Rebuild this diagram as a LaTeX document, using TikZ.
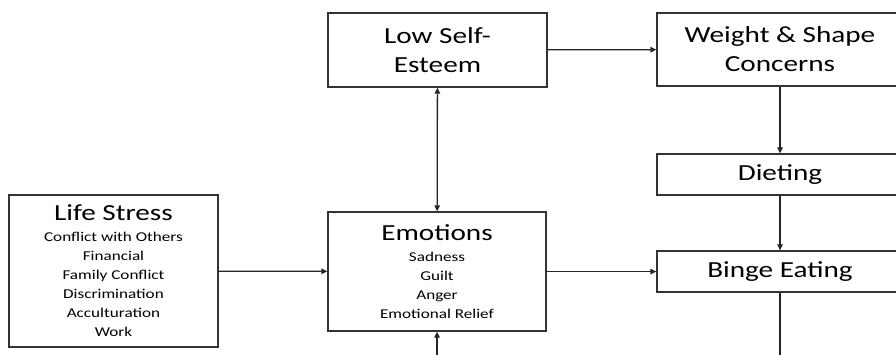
\documentclass[tikz,border=0pt]{standalone}
\usepackage{fontspec}
\setmainfont{Carlito}[FakeStretch=1.27]
\usepackage{tikz}
\usetikzlibrary{arrows.meta, positioning, calc}

\begin{document}
\begin{tikzpicture}[x=1pt, y=-1pt,
    box/.style={draw=black!80, line width=1.3pt, align=center, inner sep=0pt,
      font=\fontsize{13.5}{19}\selectfont},
    big/.style={font=\fontsize{23}{29}\selectfont},
    link/.style={draw=black!85, line width=1.3pt, -{Triangle[length=6pt,width=5.5pt]}}]
          \useasboundingbox (0,0) rectangle (896,354);
          \clip (0,0) rectangle (896,354);

          \node[box, minimum width=209pt, minimum height=152pt] (stress) at (113.5,271)
            {{\fontsize{23}{21}\selectfont Life Stress}\\[2pt]
             Conflict with Others\\ Financial\\ Family Conflict\\ Discrimination\\ Acculturation\\ Work};
          \node[box, minimum width=218pt, minimum height=119pt] (emotions) at (437,271.5)
            {{\fontsize{23}{21}\selectfont Emotions}\\[2pt]
             Sadness\\ Guilt\\ Anger\\ Emotional Relief};
          \node[box, big, minimum width=219pt, minimum height=74pt] (esteem) at (437.5,50)
            {Low Self-\\Esteem};
          \node[box, big, minimum width=246pt, minimum height=73pt] (concerns) at (780,49.5)
            {Weight \& Shape\\Concerns};
          \node[box, big, minimum width=246pt, minimum height=41pt] (dieting) at (780,174.5)
            {Dieting};
          \node[box, big, minimum width=246pt, minimum height=41pt] (binge) at (780,271.5)
            {Binge Eating};

          \coordinate (below) at (437,360);
          \coordinate (out) at (780,360);

          \draw[link] (stress) -- (emotions);
          \draw[link] (emotions) -- (binge);
          \draw[link, {Triangle[length=6pt,width=5.5pt]}-{Triangle[length=6pt,width=5.5pt]}] (emotions) -- (esteem);
          \draw[link] (below) -- (emotions);
          \draw[link] (esteem) -- (concerns);
          \draw[link] (concerns) -- (dieting);
          \draw[link] (dieting) -- (binge);
          \draw[draw=black!85, line width=1.3pt] (binge) -- (out);
        \end{tikzpicture}
\end{document}
